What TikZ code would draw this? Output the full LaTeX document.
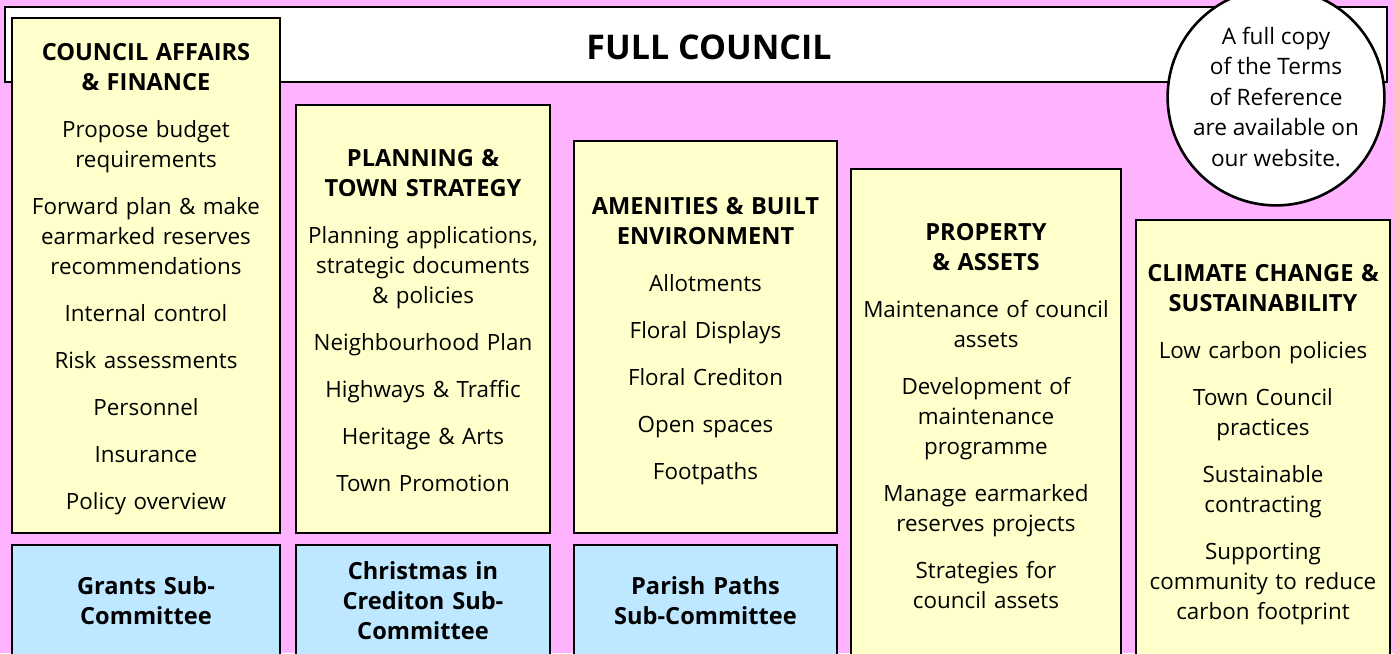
\documentclass[tikz,border=0pt]{standalone}
\usepackage{fontspec}
\setmainfont{Open Sans}
\usepackage{xcolor}
\usetikzlibrary{positioning}
\definecolor{bgpink}{RGB}{255,179,255}
\definecolor{paneyellow}{RGB}{255,255,204}
\definecolor{paneblue}{RGB}{190,232,255}
\newcommand{\bodyfont}{\fontsize{22.4}{30}\selectfont}
\newcommand{\headfont}{\fontsize{23.6}{30}\selectfont\bfseries}
\newcommand{\hd}[1]{{\headfont #1}}
\tikzset{pane/.style={rectangle,draw,line width=2.6pt,fill=paneyellow,anchor=north west,outer sep=0pt,inner sep=0pt,align=center,font=\bodyfont,execute at begin node={\rule{0pt}{28pt}},execute at end node={\rule[-9pt]{0pt}{9pt}}}}
\tikzset{subpane/.style={pane,fill=paneblue,font=\headfont,minimum height=110pt}}
\tikzset{banner/.style={rectangle,draw,line width=2.6pt,fill=white,anchor=north west,outer sep=0pt,inner sep=0pt,font=\fontsize{34}{46}\selectfont\bfseries}}

\begin{document}
\begin{tikzpicture}[x=1pt,y=-1pt]
        \clip (0,0) rectangle (1394,653);
        \fill[bgpink] (0,0) rectangle (1394,653);

        \node[banner,minimum width=1382pt,minimum height=75pt] (full) at (5,7) {\rule[-13.8pt]{0pt}{56.6pt}\hspace*{26pt}FULL COUNCIL};

        \node[pane,minimum width=268pt,minimum height=515pt,text width=258pt] (affairs) at (12,18) {\hd{COUNCIL AFFAIRS}\\\hd{\& FINANCE}\\[17pt]Propose budget\\requirements\\[17pt]Forward plan \& make\\earmarked reserves\\recommendations\\[17pt]Internal control\\[17pt]Risk assessments\\[17pt]Personnel\\[17pt]Insurance\\[17pt]Policy overview};
        \node[pane,minimum width=254pt,minimum height=428pt,text width=248pt] (planning) at (296,105) {\hd{PLANNING \&}\\\hd{TOWN STRATEGY}\\[17pt]Planning applications,\\strategic documents\\\& policies\\[17pt]Neighbourhood Plan\\[17pt]Highways \& Traffic\\[17pt]Heritage \& Arts\\[17pt]Town Promotion};
        \node[pane,minimum width=263pt,minimum height=392pt,text width=255pt] (amenities) at (574,141) {\hd{AMENITIES \& BUILT}\\\hd{ENVIRONMENT}\\[17pt]Allotments\\[17pt]Floral Displays\\[17pt]Floral Crediton\\[17pt]Open spaces\\[17pt]Footpaths};
        \node[pane,minimum width=270pt,minimum height=492pt,text width=262pt] (property) at (851,169) {\hd{PROPERTY}\\\hd{\& ASSETS}\\[17pt]Maintenance of council\\assets\\[17pt]Development of\\maintenance\\programme\\[17pt]Manage earmarked\\reserves projects\\[17pt]Strategies for\\council assets};
        \node[pane,minimum width=254pt,minimum height=441pt,text width=250pt] (climate) at (1136,220) {\hd{CLIMATE CHANGE \&}\\\hd{SUSTAINABILITY}\\[17pt]Low carbon policies\\[17pt]Town Council\\practices\\[17pt]Sustainable\\contracting\\[17pt]Supporting\\community to reduce\\carbon footprint};

        \node[subpane,minimum width=268pt,text width=258pt,below=12pt of affairs.south west,anchor=north west] (grants) {Grants Sub-\\Committee};
        \node[subpane,minimum width=254pt,text width=246pt,below=12pt of planning.south west,anchor=north west] (christmas) {Christmas in\\Crediton Sub-\\Committee};
        \node[subpane,minimum width=263pt,text width=255pt,below=12pt of amenities.south west,anchor=north west] (paths) {Parish Paths\\Sub-Committee};

        \node[circle,draw,line width=2.6pt,fill=white,minimum size=208pt,inner sep=0pt,align=center,font=\fontsize{22.6}{30.5}\selectfont] (terms) at (1276,97) {A full copy\\of the Terms\\of Reference\\are available on\\our website.};
    \end{tikzpicture}
\end{document}
